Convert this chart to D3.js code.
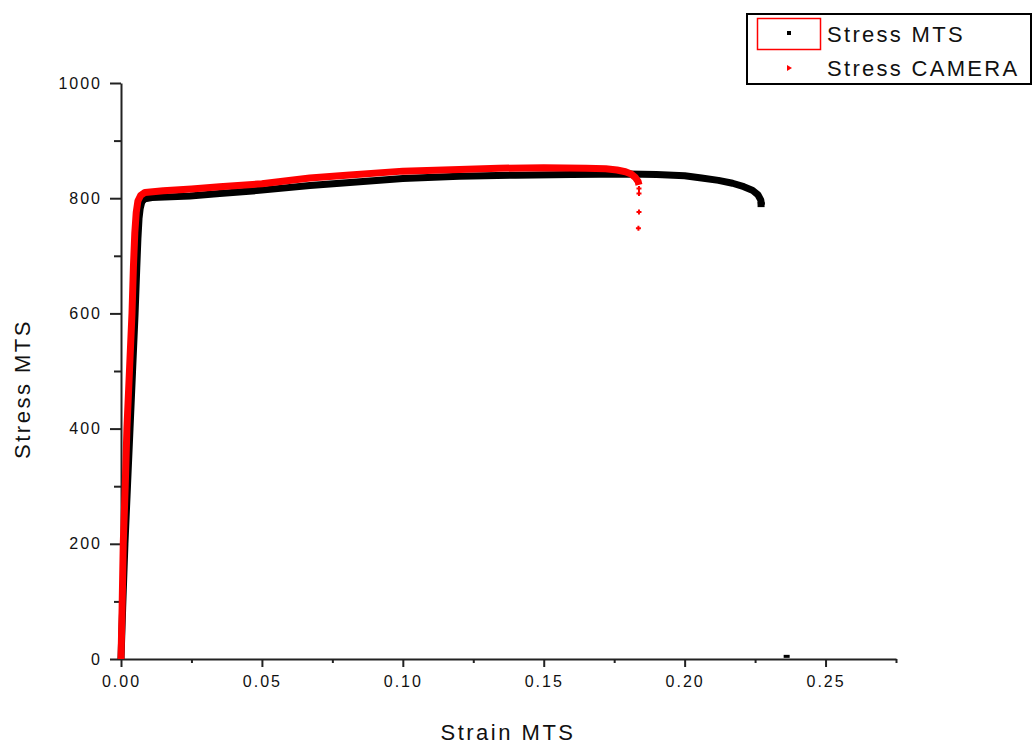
<!DOCTYPE html>
<html>
<head>
<meta charset="utf-8">
<script src="https://cdn.jsdelivr.net/npm/d3@7"></script>
<style>
  html, body { margin: 0; padding: 0; background: #fff; }
  svg { display: block; }
  text { font-family: "Liberation Sans", Arial, sans-serif; }
</style>
</head>
<body>
<svg id="chart" width="1034" height="745"></svg>
<script>
// ---- data ----
const mtsStrain = [0, 0.0006, 0.0014, 0.0023, 0.0032, 0.0041, 0.005, 0.0056, 0.006, 0.0064, 0.0068, 0.0074, 0.0085, 0.011, 0.0245, 0.035, 0.05, 0.067, 0.08, 0.10, 0.12, 0.14, 0.16, 0.18, 0.19, 0.20, 0.206, 0.212, 0.217, 0.221, 0.224, 0.226, 0.227, 0.2273];
const mtsStress = [0, 90, 200, 300, 400, 500, 600, 680, 730, 765, 782, 794, 799, 801, 804, 808, 814, 822, 827, 834, 838, 840, 841, 842, 841, 839, 835, 831, 826, 820, 814, 806, 797, 788];

const camStrain = [0, 0.0004, 0.0008, 0.0015, 0.0021, 0.003, 0.0039, 0.0044, 0.0049, 0.0054, 0.006, 0.007, 0.0085, 0.015, 0.025, 0.035, 0.05, 0.067, 0.08, 0.10, 0.12, 0.134, 0.15, 0.165, 0.172, 0.176, 0.179, 0.181, 0.1825, 0.1835, 0.1838];
const camStress = [0, 90, 200, 300, 400, 500, 600, 680, 740, 775, 795, 805, 810, 813, 816, 820, 825, 835, 840, 847, 850, 852, 853, 852, 851, 849, 846, 842, 836, 829, 823];

// isolated points
const camDropStrain = [0.1838, 0.1838, 0.1838, 0.1836];
const camDropStress = [817, 808, 776, 748];
const mtsStrayStrain = [0.2362];
const mtsStrayStress = [2];

const xMajor = [0, 0.05, 0.10, 0.15, 0.20, 0.25];
const xMinor = [0.025, 0.075, 0.125, 0.175, 0.225, 0.275];
const yMajor = [0, 200, 400, 600, 800, 1000];
const yMinor = [100, 300, 500, 700, 900];

const seriesNames = ["Stress MTS", "Stress CAMERA"];
const xTitle = "Strain MTS";
const yTitle = "Stress MTS";

// ---- drawing ----
const svg = d3.select("#chart");
const x = d3.scaleLinear().domain([0, 0.275]).range([121, 896]);
const y = d3.scaleLinear().domain([0, 1000]).range([659, 83]);

const axisColor = "#222";

// x axis
const gx = svg.append("g").attr("transform", `translate(0,${y(0)})`);
gx.call(d3.axisBottom(x).tickValues(xMajor).tickSize(8).tickSizeOuter(0).tickPadding(9)
  .tickFormat(d3.format(".2f")));
gx.append("g").call(d3.axisBottom(x).tickValues(xMinor).tickSize(4).tickSizeOuter(0).tickFormat(""))
  .select(".domain").remove();

// y axis
const gy = svg.append("g").attr("transform", `translate(${x(0)},0)`);
gy.call(d3.axisLeft(y).tickValues(yMajor).tickSize(11).tickSizeOuter(0).tickPadding(8)
  .tickFormat(d3.format("d")));
gy.append("g").call(d3.axisLeft(y).tickValues(yMinor).tickSize(7).tickSizeOuter(0).tickFormat(""))
  .select(".domain").remove();

svg.selectAll(".domain").attr("stroke", axisColor).attr("stroke-width", 2);
svg.selectAll(".tick line").attr("stroke", axisColor).attr("stroke-width", 2);
svg.selectAll(".tick text").attr("fill", "#111").style("font-size", "16px")
  .style("font-family", "'Liberation Sans', Arial, sans-serif").style("letter-spacing", "2px");

// series
const mts = mtsStrain.map((s, i) => [s, mtsStress[i]]);
const cam = camStrain.map((s, i) => [s, camStress[i]]);
const line = d3.line().x(d => x(d[0])).y(d => y(d[1]));

svg.append("path").datum(mts).attr("d", line)
  .attr("fill", "none").attr("stroke", "#000").attr("stroke-width", 7)
  .attr("stroke-linejoin", "round").attr("stroke-linecap", "butt");
// end marker of black
svg.append("rect").attr("x", x(mtsStrain[mtsStrain.length - 1]) - 4)
  .attr("y", y(mtsStress[mtsStress.length - 1]) - 3).attr("width", 7).attr("height", 5).attr("fill", "#000");

svg.append("path").datum(cam).attr("d", line)
  .attr("fill", "none").attr("stroke", "#f00").attr("stroke-width", 7)
  .attr("stroke-linejoin", "round").attr("stroke-linecap", "butt");

// isolated red points (small crosses)
const drop = camDropStrain.map((s, i) => [s, camDropStress[i]]);
svg.selectAll(".drop").data(drop).enter().append("path").attr("class", "drop")
  .attr("d", d => `M${x(d[0]) - 2.5},${y(d[1])}h5M${x(d[0])},${y(d[1]) - 2.5}v5`)
  .attr("stroke", "#f00").attr("stroke-width", 2);

// stray black point
svg.selectAll(".stray").data(mtsStrayStrain.map((s, i) => [s, mtsStrayStress[i]])).enter()
  .append("rect").attr("x", d => x(d[0]) - 3).attr("y", d => y(d[1]) - 3)
  .attr("width", 6).attr("height", 3).attr("fill", "#000");

// axis titles
svg.append("text").attr("x", 508).attr("y", 740).attr("text-anchor", "middle")
  .style("font-size", "22px").style("letter-spacing", "2.5px").attr("fill", "#111").text(xTitle);
svg.append("text").attr("transform", "translate(30,389) rotate(-90)").attr("text-anchor", "middle")
  .style("font-size", "22px").style("letter-spacing", "2.5px").attr("fill", "#111").text(yTitle);

// legend
const lg = svg.append("g");
lg.append("rect").attr("x", 747).attr("y", 14).attr("width", 284).attr("height", 70)
  .attr("fill", "#fff").attr("stroke", "#000").attr("stroke-width", 2);
lg.append("rect").attr("x", 757.5).attr("y", 18.5).attr("width", 63).attr("height", 31)
  .attr("fill", "none").attr("stroke", "#f00").attr("stroke-width", 1.5);
lg.append("rect").attr("x", 787).attr("y", 31).attr("width", 4).attr("height", 4).attr("fill", "#000");
lg.append("path").attr("d", "M787,65L792,68L787,71Z").attr("fill", "#f00");
lg.selectAll(".lt").data(seriesNames).enter().append("text").attr("class", "lt")
  .attr("x", 827).attr("y", (d, i) => 42 + i * 34)
  .style("font-size", "22px").style("letter-spacing", "2.3px").attr("fill", "#111").text(d => d);
</script>
</body>
</html>
